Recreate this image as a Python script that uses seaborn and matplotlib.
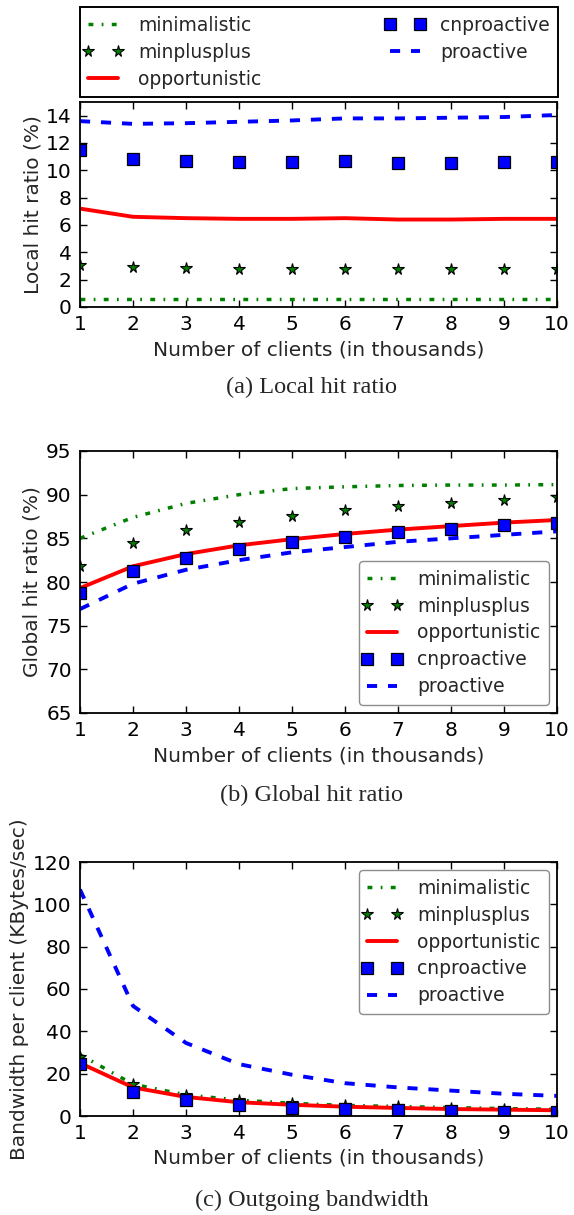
import matplotlib
matplotlib.use("Agg")
import matplotlib.pyplot as plt
from matplotlib.legend_handler import HandlerLine2D
import seaborn as sns

# Number of clients (thousands)
clients = [1, 2, 3, 4, 5, 6, 7, 8, 9, 10]

schemes = ["minimalistic", "minplusplus", "opportunistic", "cnproactive", "proactive"]

# (a) Local hit ratio (%)
local_minimalistic = [0.55, 0.55, 0.55, 0.55, 0.55, 0.55, 0.55, 0.55, 0.55, 0.55]
local_minplusplus = [3.1, 2.9, 2.85, 2.8, 2.8, 2.8, 2.75, 2.75, 2.75, 2.75]
local_opportunistic = [7.2, 6.6, 6.5, 6.45, 6.45, 6.5, 6.4, 6.4, 6.45, 6.45]
local_cnproactive = [11.5, 10.85, 10.7, 10.6, 10.6, 10.65, 10.55, 10.55, 10.6, 10.6]
local_proactive = [13.6, 13.4, 13.45, 13.55, 13.65, 13.8, 13.8, 13.85, 13.9, 14.05]

# (b) Global hit ratio (%)
global_minimalistic = [85.0, 87.4, 89.0, 90.0, 90.7, 90.9, 91.05, 91.1, 91.1, 91.15]
global_minplusplus = [81.8, 84.5, 85.9, 86.9, 87.6, 88.2, 88.7, 89.1, 89.4, 89.7]
global_opportunistic = [79.3, 81.8, 83.2, 84.2, 84.9, 85.5, 86.0, 86.4, 86.8, 87.1]
global_cnproactive = [78.7, 81.3, 82.8, 83.8, 84.6, 85.2, 85.7, 86.1, 86.5, 86.8]
global_proactive = [76.9, 79.8, 81.4, 82.5, 83.4, 84.0, 84.6, 85.0, 85.4, 85.8]

# (c) Outgoing bandwidth per client (KBytes/sec)
bw_minimalistic = [29.0, 15.0, 10.0, 7.5, 6.0, 5.0, 4.5, 4.0, 3.5, 3.2]
bw_minplusplus = [28.0, 15.0, 10.0, 7.5, 6.0, 5.0, 4.5, 4.0, 3.5, 3.2]
bw_opportunistic = [25.0, 13.5, 9.0, 6.5, 5.3, 4.4, 3.8, 3.3, 3.0, 2.7]
bw_cnproactive = [24.5, 11.5, 7.5, 5.0, 4.0, 3.2, 2.6, 2.2, 1.9, 1.7]
bw_proactive = [107.0, 52.0, 34.5, 24.5, 19.5, 15.5, 13.5, 12.0, 10.5, 9.5]

sns.set_style("ticks")
plt.rcParams.update({
    "font.family": ["DejaVu Sans"],
    "font.size": 14.5,
    "axes.linewidth": 1.3,
    "xtick.direction": "in",
    "ytick.direction": "in",
    "xtick.top": True,
    "ytick.right": True,
    "xtick.major.size": 5,
    "ytick.major.size": 5,
    "xtick.major.width": 1.0,
    "ytick.major.width": 1.0,
    "xtick.major.pad": 6,
    "ytick.major.pad": 6,
    "xtick.color": "black",
    "ytick.color": "black",
    "axes.edgecolor": "black",
    "xtick.labelsize": 14.5,
    "ytick.labelsize": 14.5,
    "axes.labelsize": 14.5,
})

W, H = 574, 1215
fig = plt.figure(figsize=(W / 100, H / 100), dpi=100)


def box(left, top, right, bottom):
    return [left / W, 1 - bottom / H, (right - left) / W, (bottom - top) / H]


ax_a = fig.add_axes(box(80, 102, 557, 307))
ax_b = fig.add_axes(box(80, 451, 557, 713))
ax_c = fig.add_axes(box(80, 862, 557, 1116))

LW = 2.8
styles = {
    "minimalistic": dict(color="#008000", lw=2.5, dashes=(1.4, 2.4, 0.5, 2.4)),
    "minplusplus": dict(color="#008000", marker="*", linestyle="none", markersize=8.5,
                        markeredgecolor="black", markeredgewidth=0.8),
    "opportunistic": dict(color="#ff0000", lw=LW, linestyle="-"),
    "cnproactive": dict(color="#0000ff", marker="s", linestyle="none", markersize=8,
                        markeredgecolor="black", markeredgewidth=0.9),
    "proactive": dict(color="#0000ff", lw=LW, dashes=(2.6, 2.8)),
}


def draw(ax, series):
    handles = []
    for name, vals in zip(schemes, series):
        sns.lineplot(x=clients, y=vals, ax=ax, legend=False, **styles[name])
        handles.append(ax.lines[-1])
    ax.set_xlim(1, 10)
    ax.set_xticks(clients)
    ax.set_xlabel("Number of clients (in thousands)")
    return handles


handles = draw(ax_a, [local_minimalistic, local_minplusplus, local_opportunistic,
                      local_cnproactive, local_proactive])
ax_a.set_ylim(0, 15)
ax_a.set_yticks(range(0, 15, 2))
ax_a.set_ylabel("Local hit ratio (%)")
ax_a.yaxis.set_label_coords(-0.078, 0.5)
ax_a.xaxis.set_label_coords(0.5, -0.161)

hb = draw(ax_b, [global_minimalistic, global_minplusplus, global_opportunistic,
                 global_cnproactive, global_proactive])
ax_b.set_ylim(65, 95)
ax_b.set_yticks(range(65, 96, 5))
ax_b.set_ylabel("Global hit ratio (%)")
ax_b.yaxis.set_label_coords(-0.081, 0.5)
ax_b.xaxis.set_label_coords(0.5, -0.127)

hc = draw(ax_c, [bw_minimalistic, bw_minplusplus, bw_opportunistic,
                 bw_cnproactive, bw_proactive])
ax_c.set_ylim(0, 120)
ax_c.set_yticks(range(0, 121, 20))
ax_c.set_ylabel("Bandwidth per client (KBytes/sec)")
ax_c.yaxis.set_label_coords(-0.1075, 0.5)
ax_c.xaxis.set_label_coords(0.5, -0.127)

for ax in (ax_a, ax_b, ax_c):
    for s in ax.spines.values():
        s.set_visible(True)

# markers sit at the very ends of each legend handle
edge_handler = HandlerLine2D(numpoints=2, marker_pad=0.0)
leg_kw = dict(numpoints=2, fontsize=13.5, handlelength=1.6, handletextpad=1.05,
              labelspacing=0.42, borderpad=0.45,
              handler_map={type(handles[0]): edge_handler})

ax_b.legend(hb, schemes, loc="lower right", borderaxespad=0.45, fancybox=True,
            edgecolor="0.55", framealpha=1, **leg_kw)
ax_c.legend(hc, schemes, loc="upper right", borderaxespad=0.45, fancybox=True,
            edgecolor="0.55", framealpha=1, **leg_kw)

top = fig.legend(handles, schemes, loc="lower left", ncol=2, mode="expand",
                 bbox_to_anchor=(80 / W, 1 - 97 / H, 478 / W, 90 / H),
                 bbox_transform=fig.transFigure, borderaxespad=0, fancybox=False,
                 edgecolor="black", framealpha=1, **leg_kw)
top.get_frame().set_linewidth(1.4)

cap_kw = dict(ha="center", va="center", family="Liberation Serif", fontsize=17.5)
fig.text(312 / W, 1 - 387 / H, "(a) Local hit ratio", **cap_kw)
fig.text(312 / W, 1 - 795 / H, "(b) Global hit ratio", **cap_kw)
fig.text(312 / W, 1 - 1200 / H, "(c) Outgoing bandwidth", **cap_kw)

fig.savefig("out.png", dpi=100)
